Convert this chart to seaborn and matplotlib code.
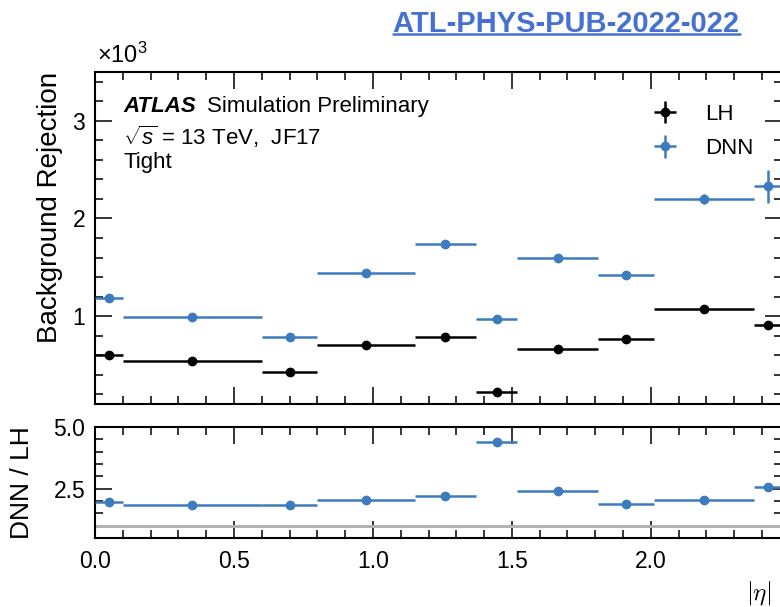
import numpy as np
import pandas as pd
import matplotlib
matplotlib.use("Agg")
import matplotlib.pyplot as plt
from matplotlib.ticker import MultipleLocator, FuncFormatter, NullFormatter
from matplotlib.lines import Line2D
import seaborn as sns

# ---------------- data ----------------
bin_edges = [0.0, 0.1, 0.6, 0.8, 1.15, 1.37, 1.52, 1.81, 2.01, 2.37, 2.47]
lh_rej = [600, 536, 430, 705, 786, 222, 660, 763, 1075, 910]
lh_err = [12, 8, 8, 10, 12, 15, 10, 12, 18, 30]
dnn_rej = [1187, 990, 790, 1440, 1740, 974, 1594, 1420, 2200, 2330]
dnn_err = [30, 15, 15, 20, 40, 30, 25, 35, 55, 170]
ratio_err = [0.05, 0.03, 0.04, 0.04, 0.05, 0.06, 0.05, 0.05, 0.05, 0.15]
series_labels = ["LH", "DNN"]
x_ticks = [0.0, 0.5, 1.0, 1.5, 2.0]

BLUE = "#3d7bbf"
BLACK = "#000000"

sns.set_style("white")
plt.rcParams["font.family"] = ["Liberation Sans", "DejaVu Sans"]
plt.rcParams["mathtext.fontset"] = "custom"
plt.rcParams["mathtext.rm"] = "Liberation Sans"
plt.rcParams["mathtext.it"] = "Liberation Sans:italic"
plt.rcParams["mathtext.bf"] = "Liberation Sans:bold"
plt.rcParams["text.color"] = "black"
plt.rcParams["axes.labelcolor"] = "black"

edges = np.array(bin_edges)
centers = 0.5 * (edges[:-1] + edges[1:])
halfw = 0.5 * (edges[1:] - edges[:-1])
df = pd.DataFrame({
    "eta": centers, "hw": halfw,
    "lh": lh_rej, "lh_err": lh_err,
    "dnn": dnn_rej, "dnn_err": dnn_err,
    "ratio_err": ratio_err,
})
df["ratio"] = df["dnn"] / df["lh"]

W, H = 780, 607
fig = plt.figure(figsize=(W / 100, H / 100), dpi=100)

def fx(px):
    return px / W

def fy(py):
    return 1 - py / H

L, R = 95, 781.5
ax = fig.add_axes([fx(L), fy(404), fx(R - L), fy(72) - fy(404)])
axr = fig.add_axes([fx(L), fy(538), fx(R - L), fy(427) - fy(538)])

ELW = 1.8
MS = 6.0
S = 36

# main panel
eb_lh = ax.errorbar(df["eta"], df["lh"], xerr=df["hw"], yerr=df["lh_err"], fmt="o",
                    color=BLACK, ms=MS, elinewidth=ELW, capsize=0, label=series_labels[0], zorder=3)
eb_dnn = ax.errorbar(df["eta"], df["dnn"], xerr=df["hw"], yerr=df["dnn_err"], fmt="o",
                     color=BLUE, ms=MS, elinewidth=ELW, capsize=0, label=series_labels[1], zorder=3)
sns.scatterplot(data=df, x="eta", y="lh", color=BLACK, s=S, linewidth=0, ax=ax, zorder=4, legend=False)
sns.scatterplot(data=df, x="eta", y="dnn", color=BLUE, s=S, linewidth=0, ax=ax, zorder=4, legend=False)

# ratio panel
axr.axhline(1.0, color="#b3b3b3", lw=2.2, zorder=1)
axr.errorbar(df["eta"], df["ratio"], xerr=df["hw"], yerr=df["ratio_err"], fmt="o",
             color=BLUE, ms=MS, elinewidth=ELW, capsize=0, zorder=3)
sns.scatterplot(data=df, x="eta", y="ratio", color=BLUE, s=S, linewidth=0, ax=axr, zorder=4, legend=False)

ax.set_xlim(0, 2.47)
axr.set_xlim(0, 2.47)
ax.set_ylim(100, 3500)
axr.set_ylim(0.5, 5.0)

for a in (ax, axr):
    a.xaxis.set_major_locator(MultipleLocator(0.5))
    a.xaxis.set_minor_locator(MultipleLocator(0.1))
    a.tick_params(which="both", direction="in", top=True, right=True, bottom=True, left=True,
                  labelsize=16.5, width=1.1, pad=7, colors="black")
    a.tick_params(which="major", length=12)
    a.tick_params(which="minor", length=6)
    for s in a.spines.values():
        s.set_linewidth(1.5)
        s.set_color("black")
    a.set_xlabel("")
    a.set_ylabel("")

ax.yaxis.set_major_locator(MultipleLocator(1000))
ax.yaxis.set_minor_locator(MultipleLocator(200))
ax.yaxis.set_major_formatter(FuncFormatter(lambda v, p: f"{v/1000:g}"))
ax.xaxis.set_major_formatter(NullFormatter())

axr.yaxis.set_major_locator(MultipleLocator(2.5))
axr.yaxis.set_minor_locator(MultipleLocator(0.5))
axr.yaxis.set_major_formatter(FuncFormatter(lambda v, p: f"{v:.1f}"))
axr.set_xticks(x_ticks)
axr.set_xticklabels([f"{t:.1f}" for t in x_ticks])
axr.tick_params(axis="x", pad=9)

ax.set_ylabel("Background Rejection", fontsize=20, loc="top")
ax.yaxis.set_label_coords(-0.047, 1.0)
axr.set_ylabel("DNN / LH", fontsize=19, loc="center")
axr.yaxis.set_label_coords(-0.089, 0.5)
axr.set_xlabel(r"$|\eta|$", fontsize=18, loc="right", math_fontfamily="cm")
axr.xaxis.set_label_coords(0.985, -0.37)

fig.text(fx(97), fy(63), "\u00d710$^{3}$", fontsize=17, ha="left", va="baseline")

# ATLAS label
fig.text(fx(123), fy(112), "ATLAS", fontsize=16, fontweight="bold", style="italic",
         ha="left", va="baseline")
fig.text(fx(207), fy(112), "Simulation Preliminary", fontsize=16, ha="left", va="baseline")
fig.text(fx(123), fy(145), r"$\sqrt{s}$ = 13 TeV,  JF17", fontsize=16, ha="left", va="baseline")
fig.text(fx(123), fy(168), "Tight", fontsize=16, ha="left", va="baseline")

leg = ax.legend(handles=[eb_lh, eb_dnn], labels=series_labels, loc="upper left",
                bbox_to_anchor=(0.8128, 0.904), frameon=False, fontsize=16,
                handlelength=1.05, handletextpad=1.3, labelspacing=0.6,
                borderpad=0, borderaxespad=0)

# title with underline
TCOL = "#4670d2"
t = fig.text(fx(566), fy(31.5), "ATL-PHYS-PUB-2022-022", fontsize=21, fontweight="bold",
             color=TCOL, ha="center", va="baseline")
fig.canvas.draw()
bb = t.get_window_extent(renderer=fig.canvas.get_renderer())
fig.add_artist(Line2D([bb.x0 / W, bb.x1 / W], [fy(34), fy(34)], color=TCOL, lw=1.8,
                      transform=fig.transFigure))

fig.savefig("out.png", dpi=100)
